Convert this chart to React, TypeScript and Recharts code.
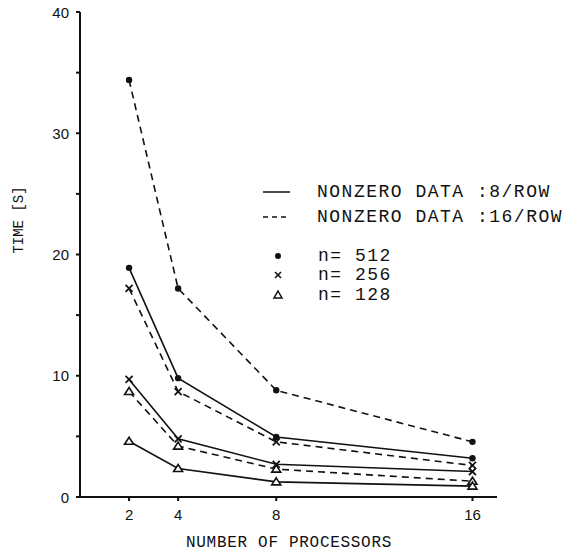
import React from 'react';
import { LineChart, Line, XAxis, YAxis } from 'recharts';

// number of processors on the x axis
const processors = [2, 4, 8, 16];

// time [s]
const n512Row8 = [18.9, 9.8, 4.95, 3.2];
const n512Row16 = [34.4, 17.2, 8.8, 4.55];
const n256Row8 = [9.7, 4.8, 2.7, 2.1];
const n256Row16 = [17.2, 8.7, 4.55, 2.6];
const n128Row8 = [4.6, 2.35, 1.25, 0.9];
const n128Row16 = [8.7, 4.2, 2.3, 1.3];

const xTicks = [2, 4, 8, 16];
const yTicks = [0, 5, 10, 15, 20, 25, 30, 35, 40];

const data = processors.map((p, i) => ({
  p,
  n512Row8: n512Row8[i],
  n512Row16: n512Row16[i],
  n256Row8: n256Row8[i],
  n256Row16: n256Row16[i],
  n128Row8: n128Row8[i],
  n128Row16: n128Row16[i],
}));

const INK = '#111';
const MONO = '"Liberation Mono", "DejaVu Sans Mono", monospace';
const DASH = '7 5';

const DotMark = (props: any) => {
  const { cx, cy } = props;
  return <circle key={props.key} cx={cx} cy={cy} r={3.2} fill={INK} />;
};

const CrossMark = (props: any) => {
  const { cx, cy } = props;
  const s = 3.5;
  return (
    <g key={props.key} stroke={INK} strokeWidth={1.8}>
      <line x1={cx - s} y1={cy - s} x2={cx + s} y2={cy + s} />
      <line x1={cx - s} y1={cy + s} x2={cx + s} y2={cy - s} />
    </g>
  );
};

const TriMark = (props: any) => {
  const { cx, cy } = props;
  return (
    <path
      key={props.key}
      d={`M${cx},${cy - 4} L${cx + 4.5},${cy + 3} L${cx - 4.5},${cy + 3} Z`}
      fill="#fff"
      stroke={INK}
      strokeWidth={1.6}
    />
  );
};

const YTick = (props: any) => {
  const { x, y, payload } = props;
  if (payload.value % 10 !== 0) return <g />;
  return (
    <text x={x} y={y} textAnchor="end" dominantBaseline="central" fontFamily="Liberation Sans, Arial, sans-serif" fontSize={15} fill={INK}>
      {payload.value}
    </text>
  );
};

const XTick = (props: any) => {
  const { x, y, payload } = props;
  return (
    <text x={x} y={y} textAnchor="middle" dominantBaseline="central" fontFamily="Liberation Sans, Arial, sans-serif" fontSize={15} fill={INK}>
      {payload.value}
    </text>
  );
};

const Overlay = () => (
  <svg width={564} height={553} style={{ position: 'absolute', left: 0, top: 0, pointerEvents: 'none' }}>
    <g fontFamily={MONO} fill={INK}>
      <text x={19} y={220} fontSize={14} textAnchor="middle" dominantBaseline="central" transform="rotate(-90 19 220)">
        TIME [S]
      </text>
      <text x={289} y={543} fontSize={16} letterSpacing={0.7} textAnchor="middle" dominantBaseline="central">
        NUMBER OF PROCESSORS
      </text>

      <line x1={263} y1={192} x2={290} y2={192} stroke={INK} strokeWidth={1.5} />
      <text x={317} y={192} fontSize={18} letterSpacing={1.5} dominantBaseline="central">
        NONZERO DATA :8/ROW
      </text>
      <line x1={263} y1={217} x2={290} y2={217} stroke={INK} strokeWidth={1.5} strokeDasharray="5 4" />
      <text x={317} y={217} fontSize={18} letterSpacing={1.5} dominantBaseline="central">
        NONZERO DATA :16/ROW
      </text>

      <circle cx={278} cy={256} r={3} fill={INK} />
      <text x={318} y={256} fontSize={18} letterSpacing={1.5} dominantBaseline="central">n= 512</text>
      <g stroke={INK} strokeWidth={1.6}>
        <line x1={275} y1={272} x2={281} y2={278} />
        <line x1={275} y1={278} x2={281} y2={272} />
      </g>
      <text x={318} y={275} fontSize={18} letterSpacing={1.5} dominantBaseline="central">n= 256</text>
      <path d="M278,291 L282,298 L274,298 Z" fill="#fff" stroke={INK} strokeWidth={1.5} />
      <text x={318} y={295} fontSize={18} letterSpacing={1.5} dominantBaseline="central">n= 128</text>
    </g>
  </svg>
);

const App: React.FC = () => {
  return (
    <div style={{ position: 'absolute', left: 0, top: 0, width: 564, height: 553, background: '#fff' }}>
      <LineChart width={564} height={553} data={data} margin={{ top: 12, right: 67, bottom: 0, left: 20 }}>
        <XAxis
          dataKey="p"
          type="number"
          domain={[0, 17]}
          ticks={xTicks}
          tick={<XTick />}
          tickSize={4}
          tickMargin={13}
          height={56}
          stroke={INK}
          strokeWidth={2}
          allowDataOverflow
        />
        <YAxis
          type="number"
          domain={[0, 40]}
          ticks={yTicks}
          tick={<YTick />}
          tickSize={4}
          tickMargin={7}
          width={60}
          stroke={INK}
          strokeWidth={2}
          interval={0}
        />
        <Line dataKey="n512Row16" stroke={INK} strokeWidth={1.6} strokeDasharray={DASH} dot={DotMark} isAnimationActive={false} />
        <Line dataKey="n512Row8" stroke={INK} strokeWidth={1.6} dot={DotMark} isAnimationActive={false} />
        <Line dataKey="n256Row16" stroke={INK} strokeWidth={1.6} strokeDasharray={DASH} dot={CrossMark} isAnimationActive={false} />
        <Line dataKey="n256Row8" stroke={INK} strokeWidth={1.6} dot={CrossMark} isAnimationActive={false} />
        <Line dataKey="n128Row16" stroke={INK} strokeWidth={1.6} strokeDasharray={DASH} dot={TriMark} isAnimationActive={false} />
        <Line dataKey="n128Row8" stroke={INK} strokeWidth={1.6} dot={TriMark} isAnimationActive={false} />
      </LineChart>
      <Overlay />
    </div>
  );
};

export default App;
